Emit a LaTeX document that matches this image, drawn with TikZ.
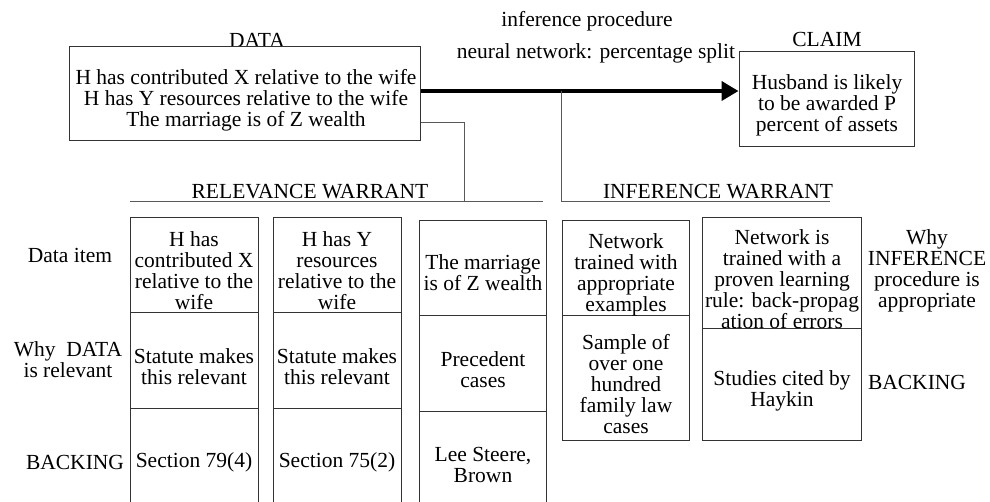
\documentclass[tikz,border=0pt]{standalone}
\usepackage{fontspec}
\setmainfont{Liberation Serif}
\usetikzlibrary{arrows.meta}
\begin{document}
\begin{tikzpicture}[x=1pt,y=-1pt,
  txt/.style={font=\fontsize{21.5}{21}\selectfont, inner sep=0pt, align=center},
  box/.style={draw=black!80, line width=1pt, fill=white, inner sep=0pt},
  cell/.style={draw=black!80, line width=1pt, inner sep=0pt},
  conn/.style={draw=black!65, line width=1pt}]
\useasboundingbox[fill=white] (0,0) rectangle (990,502);

% labels above boxes
\node[txt, anchor=base] (datalbl) at (257,48) {DATA};
\node[txt, anchor=base] (claimlbl) at (827,47) {CLAIM};
\node[txt, anchor=base] (infproc) at (587,27) {inference procedure};
\node[txt, anchor=base] (nnsplit) at (596,59) {neural network: percentage split};

% main boxes
\node[box, minimum width=351, minimum height=94] (data) at (244.5,94) {};
\node[txt] (datatext) at (246,100) {H has contributed X relative to the wife\\H has Y resources relative to the wife\\The marriage is of Z wealth};
\node[box, minimum width=175, minimum height=95] (claim) at (826.5,99.5) {};
\node[txt] (claimtext) at (827,105) {Husband is likely\\to be awarded P\\percent of assets};

% coordinates for connectors
\coordinate (ay) at (0,91);
\coordinate (ry) at (0,123);
\coordinate (rj) at (464,202);
\coordinate (rl) at (130,202);
\coordinate (rr) at (543,202);
\coordinate (ij) at (561,202);
\coordinate (ir) at (830,202);

% connectors
\draw[line width=4pt, -{Triangle[length=17pt,width=19pt]}] (data.east |- ay) -- (claim.west |- ay);
\draw[conn] (data.east |- ry) -| (rj);
\draw[conn] (rl) -- (rr);
\draw[conn] (ij |- ay) -- (ij) -- (ir);

% warrant headings
\node[txt, anchor=base] (relw) at (310,199) {RELEVANCE WARRANT};
\node[txt, anchor=base] (infw) at (718,199) {INFERENCE WARRANT};

% column 1
\node[cell, minimum width=128, minimum height=95] (c1a) at (194,265.5) {};
\node[cell, minimum width=128, minimum height=95] (c1b) at (194,360.5) {};
\node[cell, minimum width=128, minimum height=112] (c1c) at (194,464) {};
% column 2
\node[cell, minimum width=128, minimum height=95] (c2a) at (337,265.5) {};
\node[cell, minimum width=128, minimum height=95] (c2b) at (337,360.5) {};
\node[cell, minimum width=128, minimum height=112] (c2c) at (337,464) {};
% column 3
\node[cell, minimum width=127, minimum height=95] (c3a) at (482.5,268.5) {};
\node[cell, minimum width=127, minimum height=95] (c3b) at (482.5,363.5) {};
\node[cell, minimum width=127, minimum height=109] (c3c) at (482.5,465.5) {};
% column 4
\node[cell, minimum width=127, minimum height=95] (c4a) at (625.5,268.5) {};
\node[cell, minimum width=127, minimum height=124] (c4b) at (625.5,378) {};
% column 5
\node[cell, minimum width=159, minimum height=111] (c5a) at (781.5,273.5) {};
\node[cell, minimum width=159, minimum height=111] (c5b) at (781.5,384.5) {};

% cell texts
\node[txt] (t1a) at (194,271) {H has\\contributed X\\relative to the\\wife};
\node[txt] (t1b) at (194,367) {Statute makes\\this relevant};
\node[txt] (t1c) at (194,462) {Section 79(4)};
\node[txt] (t2a) at (337,271) {H has Y\\resources\\relative to the\\wife};
\node[txt] (t2b) at (337,367) {Statute makes\\this relevant};
\node[txt] (t2c) at (337,462) {Section 75(2)};
\node[txt] (t3a) at (483,273) {The marriage\\is of Z wealth};
\node[txt] (t3b) at (483,370) {Precedent\\cases};
\node[txt] (t3c) at (483,465) {Lee Steere,\\Brown};
\node[txt] (t4a) at (626,275) {Network\\trained with\\appropriate\\examples};
\node[txt] (t4b) at (626,384) {Sample of\\over one\\hundred\\family law\\cases};
\node[txt] (t5a) at (782,279) {Network is\\trained with a\\proven learning\\rule: back-propag\\ation of errors};
\node[txt] (t5b) at (782,391) {Studies cited by\\Haykin};

% row labels
\node[txt] (ldata) at (70,255) {Data item};
\node[txt] (lwhy) at (68,360) {Why~~DATA\\is relevant};
\node[txt] (lback) at (75,462) {BACKING};
\node[txt] (rwhy) at (927,271) {Why\\INFERENCE\\procedure is\\appropriate};
\node[txt] (rback) at (917,382) {BACKING};
\end{tikzpicture}
\end{document}
